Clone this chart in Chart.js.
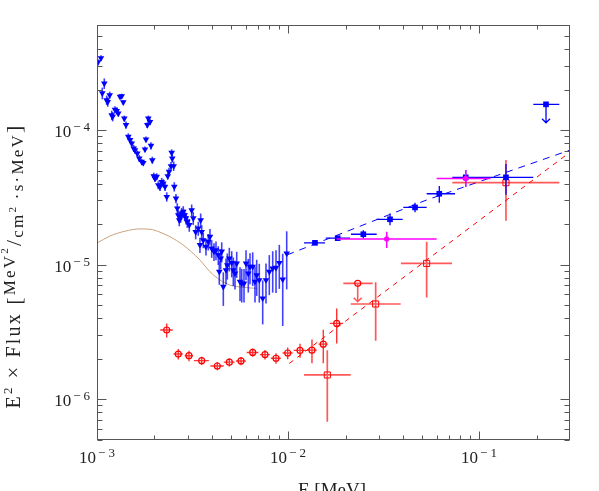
<!DOCTYPE html>
<html>
<head>
<meta charset="utf-8">
<script src="https://cdn.jsdelivr.net/npm/chart.js@4.4.0/dist/chart.umd.min.js"></script>
<style>
  html, body { margin: 0; padding: 0; background: #fff; }
  #wrap { width: 599px; height: 491px; }
</style>
</head>
<body>
<div id="wrap"><canvas id="sed" width="599" height="491"></canvas></div>
<script>
// ---- blue triangles (energy MeV, E^2 flux, relative error) ----
const triE = [1.012e-3, 1.049e-3, 1.092e-3, 1.066e-3, 1.124e-3, 1.138e-3, 1.166e-3, 1.194e-3, 1.208e-3, 1.242e-3,
  1.268e-3, 1.293e-3, 1.320e-3, 1.347e-3, 1.373e-3, 1.390e-3, 1.418e-3, 1.459e-3, 1.489e-3, 1.520e-3,
  1.557e-3, 1.581e-3, 1.625e-3, 1.665e-3, 1.714e-3, 1.747e-3, 1.783e-3, 1.805e-3, 1.834e-3, 1.856e-3,
  1.894e-3, 1.917e-3, 1.948e-3, 1.981e-3, 2.012e-3, 2.054e-3, 2.094e-3, 2.137e-3, 2.181e-3, 2.224e-3,
  2.270e-3, 2.346e-3, 2.383e-3, 2.440e-3, 2.478e-3, 2.460e-3, 2.521e-3, 2.539e-3, 2.318e-3, 2.591e-3,
  2.632e-3, 2.664e-3, 2.696e-3, 2.742e-3, 2.776e-3, 2.829e-3, 2.877e-3, 2.923e-3, 2.969e-3, 3.041e-3,
  3.131e-3, 3.192e-3, 3.286e-3, 3.391e-3, 3.490e-3, 3.532e-3, 3.600e-3, 3.460e-3, 3.720e-3, 3.825e-3,
  3.904e-3, 3.985e-3, 4.097e-3, 4.197e-3, 4.316e-3, 4.442e-3, 4.368e-3, 4.498e-3, 4.585e-3, 4.736e-3,
  4.811e-3, 4.929e-3, 5.073e-3, 5.172e-3, 5.279e-3, 5.388e-3, 5.608e-3, 5.724e-3, 5.884e-3, 6.028e-3,
  6.196e-3, 6.324e-3, 6.534e-3, 6.717e-3, 6.856e-3, 7.074e-3, 7.371e-3, 7.670e-3, 7.982e-3, 8.316e-3,
  8.654e-3, 9.006e-3, 9.383e-3, 9.845e-3];
const triF = [3.20e-4, 3.43e-4, 2.22e-4, 1.88e-4, 1.67e-4, 1.62e-4, 1.82e-4, 1.29e-4, 1.26e-4, 1.42e-4,
  1.39e-4, 1.33e-4, 1.77e-4, 1.79e-4, 1.61e-4, 1.22e-4, 1.09e-4, 8.92e-5, 8.43e-5, 7.96e-5,
  7.31e-5, 7.10e-5, 6.71e-5, 6.16e-5, 5.81e-5, 5.71e-5, 7.19e-5, 8.53e-5, 1.09e-4, 1.22e-4,
  1.15e-4, 7.64e-5, 5.98e-5, 4.55e-5, 4.37e-5, 4.50e-5, 3.90e-5, 3.79e-5, 4.12e-5, 4.02e-5,
  3.79e-5, 4.55e-5, 4.90e-5, 5.40e-5, 6.16e-5, 6.78e-5, 5.40e-5, 3.79e-5, 3.19e-5, 3.10e-5,
  2.62e-5, 2.33e-5, 2.14e-5, 2.27e-5, 2.40e-5, 2.47e-5, 2.33e-5, 2.21e-5, 2.08e-5, 1.97e-5,
  2.54e-5, 2.21e-5, 1.75e-5, 1.86e-5, 2.14e-5, 1.75e-5, 1.52e-5, 1.40e-5, 1.36e-5, 1.48e-5,
  1.61e-5, 1.32e-5, 1.25e-5, 1.28e-5, 1.18e-5, 1.11e-5, 8.84e-6, 1.25e-5, 6.84e-6, 9.10e-6,
  9.91e-6, 1.11e-5, 1.03e-5, 9.10e-6, 8.60e-6, 1.02e-5, 7.45e-6, 7.25e-6, 7.25e-6, 1.02e-5,
  8.60e-6, 9.63e-6, 9.63e-6, 7.45e-6, 8.35e-6, 7.67e-6, 5.61e-6, 7.67e-6, 8.84e-6, 9.37e-6,
  9.47e-6, 1.03e-5, 7.76e-6, 1.21e-5];
const triErr = [0.05, 0.05, 0.09, 0.10, 0.08, 0.08, 0.06, 0.08, 0.08, 0.06,
  0.06, 0.05, 0.04, 0.04, 0.04, 0.05, 0.06, 0.06, 0.05, 0.05,
  0.06, 0.06, 0.05, 0.06, 0.05, 0.05, 0.05, 0.05, 0.05, 0.05,
  0.05, 0.06, 0.06, 0.06, 0.06, 0.06, 0.07, 0.07, 0.07, 0.07,
  0.07, 0.06, 0.07, 0.07, 0.07, 0.06, 0.08, 0.08, 0.08, 0.08,
  0.09, 0.09, 0.10, 0.10, 0.10, 0.10, 0.10, 0.10, 0.10, 0.11,
  0.10, 0.11, 0.12, 0.12, 0.12, 0.12, 0.13, 0.13, 0.14, 0.14,
  0.14, 0.15, 0.15, 0.16, 0.16, 0.17, 0.20, 0.17, 0.28, 0.22,
  0.22, 0.20, 0.22, 0.24, 0.24, 0.22, 0.28, 0.28, 0.28, 0.25,
  0.28, 0.26, 0.28, 0.30, 0.30, 0.32, 0.36, 0.33, 0.33, 0.34,
  0.35, 0.36, 0.55, 0.46];

// ---- blue filled squares ----
const sqE   = [1.384e-2, 1.820e-2, 2.479e-2, 3.42e-2, 4.624e-2, 6.195e-2, 8.52e-2, 0.1384];
const sqF   = [1.45e-5, 1.57e-5, 1.68e-5, 2.17e-5, 2.66e-5, 3.36e-5, 4.45e-5, 4.45e-5];
const sqELo = [1.213e-2, 1.575e-2, 2.137e-2, 2.913e-2, 4.015e-2, 5.32e-2, 7.25e-2, 0.100];
const sqEHi = [1.562e-2, 2.112e-2, 2.913e-2, 3.985e-2, 5.32e-2, 7.486e-2, 0.100, 0.1924];
const sqFLo = [1.40e-5, 1.52e-5, 1.57e-5, 1.96e-5, 2.45e-5, 2.88e-5, 3.79e-5, 3.30e-5];
const sqFHi = [1.50e-5, 1.62e-5, 1.80e-5, 2.40e-5, 2.88e-5, 3.84e-5, 5.04e-5, 5.60e-5];
// blue upper limit
const sqLimE = [0.2243], sqLimF = [1.553e-4], sqLimELo = [0.1924], sqLimEHi = [0.2633], sqLimTo = [1.133e-4];

// ---- red circles ----
const circE = [2.317e-3, 2.664e-3, 3.03e-3, 3.532e-3, 4.264e-3, 4.929e-3, 5.675e-3, 6.534e-3, 7.579e-3,
  8.654e-3, 9.963e-3, 1.156e-2, 1.335e-2, 1.530e-2, 1.799e-2];
const circF = [3.26e-6, 2.16e-6, 2.10e-6, 1.93e-6, 1.76e-6, 1.88e-6, 1.92e-6, 2.22e-6, 2.14e-6,
  2.01e-6, 2.20e-6, 2.30e-6, 2.31e-6, 2.56e-6, 3.65e-6];
const circErr  = [0.12, 0.09, 0.09, 0.07, 0.07, 0.07, 0.07, 0.07, 0.08, 0.09, 0.10, 0.12, 0.20, 0.28, 0.29];
const circXErr = [0.075, 0.055, 0.05, 0.09, 0.08, 0.065, 0.06, 0.07, 0.06, 0.06, 0.06, 0.075, 0.06, 0.055, 0.08];
// red upper limit
const circLimE = [2.317e-2], circLimF = [7.25e-6], circLimELo = [1.948e-2], circLimEHi = [2.776e-2], circLimTo = [5.29e-6];

// ---- red open squares ----
const boxE   = [1.606e-2, 2.877e-2, 5.32e-2, 0.1384];
const boxF   = [1.51e-6, 5.09e-6, 1.02e-5, 4.06e-5];
const boxELo = [1.213e-2, 2.129e-2, 3.90e-2, 7.25e-2];
const boxEHi = [2.129e-2, 3.89e-2, 7.22e-2, 0.2633];
const boxFLo = [6.78e-7, 2.71e-6, 5.70e-6, 2.12e-5];
const boxFHi = [2.31e-6, 7.37e-6, 1.48e-5, 5.98e-5];

// ---- magenta ----
const magE   = [3.286e-2, 8.52e-2];
const magF   = [1.55e-5, 4.37e-5];
const magELo = [1.799e-2, 6.00e-2];
const magEHi = [6.004e-2, 0.115];
const magFLo = [1.33e-5, 3.79e-5];
const magFHi = [1.75e-5, 5.04e-5];

// ---- model lines ----
const blueFitE = [9.9e-3, 5.32e-2, 0.3];
const blueFitF = [1.18e-5, 3.02e-5, 7.10e-5];
const redFitE  = [1.016e-2, 0.3];
const redFitF  = [1.84e-6, 6.86e-5];
const modelE = [1.0e-3, 1.170e-3, 1.402e-3, 1.680e-3, 1.894e-3, 2.137e-3, 2.41e-3, 2.82e-3, 3.46e-3,
  3.904e-3, 4.406e-3, 4.968e-3, 5.813e-3, 6.880e-3];
const modelF = [1.445e-5, 1.63e-5, 1.77e-5, 1.84e-5, 1.83e-5, 1.74e-5, 1.61e-5, 1.40e-5, 1.08e-5,
  8.84e-6, 7.67e-6, 7.04e-6, 6.77e-6, 6.65e-6];

// axes
const xMin = 1e-3, xMax = 0.2995, yMin = 4.96e-7, yMax = 6.04e-4;
const xMajorExp = [-3, -2, -1];
const yMajorExp = [-6, -5, -4];

const BLUE = '#0000ff', RED = '#ff0000', MAG = '#ff00ff', BROWN = '#c8a27c';
const FONT = '"Liberation Serif", "DejaVu Serif", serif';

function pts(E, F) { return E.map((e, i) => ({ x: e, y: F[i] })); }

const triBars = triE.map((e, i) => ({ x: e, y: triF[i], yLo: triF[i] * (1 - triErr[i]), yHi: triF[i] * (1 + triErr[i]) }));
const sqBars = sqE.map((e, i) => ({ x: e, y: sqF[i], xLo: sqELo[i], xHi: sqEHi[i], yLo: sqFLo[i], yHi: sqFHi[i] }));
const sqLimBars = sqLimE.map((e, i) => ({ x: e, y: sqLimF[i], xLo: sqLimELo[i], xHi: sqLimEHi[i], limTo: sqLimTo[i] }));
const circBars = circE.map((e, i) => ({ x: e, y: circF[i], xLo: e * (1 - circXErr[i]), xHi: e * (1 + circXErr[i]),
  yLo: circF[i] * (1 - circErr[i]), yHi: circF[i] * (1 + circErr[i]) }));
const circLimBars = circLimE.map((e, i) => ({ x: e, y: circLimF[i], xLo: circLimELo[i], xHi: circLimEHi[i], limTo: circLimTo[i] }));
const boxBars = boxE.map((e, i) => ({ x: e, y: boxF[i], xLo: boxELo[i], xHi: boxEHi[i], yLo: boxFLo[i], yHi: boxFHi[i] }));
const magBars = magE.map((e, i) => ({ x: e, y: magF[i], xLo: magELo[i], xHi: magEHi[i], yLo: magFLo[i], yHi: magFHi[i] }));

// error bars / upper limit arrows, drawn just under each dataset's markers
const errorBarPlugin = {
  id: 'errorBars',
  beforeDatasetDraw(chart, args) {
    const ds = chart.data.datasets[args.index];
    if (!ds.errorBars) return;
    const { ctx, chartArea: a, scales: { x, y } } = chart;
    ctx.save();
    ctx.beginPath();
    ctx.rect(a.left, a.top, a.right - a.left, a.bottom - a.top);
    ctx.clip();
    ctx.strokeStyle = ds.barColor;
    ctx.lineWidth = ds.barWidth;
    ds.errorBars.forEach(b => {
      const px = x.getPixelForValue(b.x), py = y.getPixelForValue(b.y);
      ctx.beginPath();
      if (b.xLo != null) { ctx.moveTo(x.getPixelForValue(b.xLo), py); ctx.lineTo(x.getPixelForValue(b.xHi), py); }
      if (b.yLo != null) { ctx.moveTo(px, y.getPixelForValue(b.yLo)); ctx.lineTo(px, y.getPixelForValue(b.yHi)); }
      if (b.limTo != null) {
        const ty = y.getPixelForValue(b.limTo);
        ctx.moveTo(px, py); ctx.lineTo(px, ty);
        ctx.moveTo(px - 4, ty - 4); ctx.lineTo(px, ty); ctx.lineTo(px + 4, ty - 4);
      }
      ctx.stroke();
    });
    ctx.restore();
  }
};

function drawPow(ctx, exp, x, y, align) {
  ctx.font = '17px ' + FONT;
  const wb = ctx.measureText('10').width;
  ctx.font = '13px ' + FONT;
  const wm = ctx.measureText('\u2212').width;
  const wd = ctx.measureText(String(Math.abs(exp))).width;
  const total = wb + 2 + wm + 3 + wd;
  const x0 = align === 'center' ? x - total / 2 : x - total;
  ctx.textAlign = 'left';
  ctx.textBaseline = 'alphabetic';
  ctx.font = '17px ' + FONT;
  ctx.fillText('10', x0, y);
  ctx.font = '13px ' + FONT;
  ctx.fillText('\u2212', x0 + wb + 2, y - 6);
  ctx.fillText(String(Math.abs(exp)), x0 + wb + 2 + wm + 3, y - 6);
}

// frame with inward ticks on all sides, tick labels and titles
const frameAxes = {
  id: 'frameAxes',
  afterDraw(chart) {
    const { ctx, chartArea: a, scales: { x, y } } = chart;
    const L = Math.round(a.left) + 0.5, R = Math.round(a.right) - 0.5;
    const T = Math.round(a.top) + 0.5, B = Math.round(a.bottom) - 0.5;
    ctx.save();
    ctx.strokeStyle = '#555';
    ctx.lineWidth = 1;
    ctx.strokeRect(L, T, R - L, B - T);

    ctx.beginPath();
    for (let d = -3; d <= -1; d++) {
      for (let m = 1; m <= 9; m++) {
        const v = m * Math.pow(10, d);
        if (v < xMin * 0.999 || v > xMax) continue;
        const px = Math.round(x.getPixelForValue(v)) + 0.5;
        const len = m === 1 ? 8 : 4;
        ctx.moveTo(px, B); ctx.lineTo(px, B - len);
        ctx.moveTo(px, T); ctx.lineTo(px, T + len);
      }
    }
    for (let d = -7; d <= -4; d++) {
      for (let m = 1; m <= 9; m++) {
        const v = m * Math.pow(10, d);
        if (v < yMin || v > yMax) continue;
        const py = Math.round(y.getPixelForValue(v)) + 0.5;
        const len = m === 1 ? 9 : 5;
        ctx.moveTo(L, py); ctx.lineTo(L + len, py);
        ctx.moveTo(R, py); ctx.lineTo(R - len, py);
      }
    }
    ctx.stroke();

    ctx.fillStyle = '#222';
    xMajorExp.forEach(e => drawPow(ctx, e, x.getPixelForValue(Math.pow(10, e)), 463, 'center'));
    yMajorExp.forEach(e => drawPow(ctx, e, 90, y.getPixelForValue(Math.pow(10, e)) + 7, 'right'));

    // x title (partly below the canvas edge, as in the original)
    ctx.font = '19px ' + FONT;
    ctx.textAlign = 'center';
    ctx.textBaseline = 'alphabetic';
    ctx.fillText('E [MeV]', 332, 496);

    // y title, built from pieces: [text, size, shift]
    const parts = [
      ['E', 20, 0], ['2', 13, -8], [' \u00d7 Flux ', 20, 0], ['[', 22, 1],
      ['MeV', 17, -5], ['2', 11, -12], ['/', 22, 1], ['cm', 17, 3], ['2', 11, -4],
      ['\u2009\u00b7s\u00b7MeV', 17, 3], [']', 22, 1]
    ];
    const target = 285;
    let w = 0, n = 0;
    parts.forEach(p => { ctx.font = p[1] + 'px ' + FONT; w += ctx.measureText(p[0]).width; n += p[0].length; });
    const gap = Math.max(0, (target - w) / n);
    ctx.translate(20, 266);
    ctx.rotate(-Math.PI / 2);
    ctx.textAlign = 'left';
    let cx = -target / 2;
    parts.forEach(p => {
      ctx.font = p[1] + 'px ' + FONT;
      for (const ch of p[0]) {
        ctx.fillText(ch, cx, p[2]);
        cx += ctx.measureText(ch).width + gap;
      }
    });
    ctx.restore();
  }
};

new Chart(document.getElementById('sed'), {
  type: 'scatter',
  data: {
    datasets: [
      { label: 'magenta', data: pts(magE, magF), pointStyle: 'circle', pointRadius: 2.6,
        backgroundColor: MAG, borderColor: MAG, borderWidth: 0,
        errorBars: magBars, barColor: MAG, barWidth: 1.5 },
      { label: 'blue squares', data: pts(sqE, sqF), pointStyle: 'rect', pointRadius: 4,
        backgroundColor: BLUE, borderColor: BLUE, borderWidth: 0,
        errorBars: sqBars, barColor: BLUE, barWidth: 1.3 },
      { label: 'blue limit', data: pts(sqLimE, sqLimF), pointStyle: 'rect', pointRadius: 4,
        backgroundColor: BLUE, borderColor: BLUE, borderWidth: 0,
        errorBars: sqLimBars, barColor: BLUE, barWidth: 1.3 },
      { label: 'red squares', data: pts(boxE, boxF), pointStyle: 'rect', pointRadius: 4.3,
        backgroundColor: 'rgba(255,255,255,0)', borderColor: RED, borderWidth: 1,
        errorBars: boxBars, barColor: 'rgba(255,0,0,0.65)', barWidth: 1.7 },
      { label: 'red circles', data: pts(circE, circF), pointStyle: 'circle', pointRadius: 3,
        backgroundColor: 'rgba(255,255,255,0)', borderColor: RED, borderWidth: 1.2,
        errorBars: circBars, barColor: 'rgba(255,0,0,0.8)', barWidth: 1.4 },
      { label: 'red limit', data: pts(circLimE, circLimF), pointStyle: 'circle', pointRadius: 3,
        backgroundColor: 'rgba(255,255,255,0)', borderColor: RED, borderWidth: 1.2,
        errorBars: circLimBars, barColor: 'rgba(255,0,0,0.65)', barWidth: 1.6 },
      { label: 'triangles', data: pts(triE, triF), pointStyle: 'triangle', rotation: 180, pointRadius: 3.8,
        backgroundColor: BLUE, borderColor: BLUE, borderWidth: 0,
        errorBars: triBars, barColor: 'rgba(0,0,255,0.75)', barWidth: 1.6 },
      { label: 'model', data: pts(modelE, modelF), showLine: true, pointRadius: 0,
        borderColor: BROWN, borderWidth: 1, cubicInterpolationMode: 'monotone', fill: false },
      { label: 'blue fit', data: pts(blueFitE, blueFitF), showLine: true, pointRadius: 0,
        borderColor: BLUE, borderWidth: 1, borderDash: [7, 6], fill: false },
      { label: 'red fit', data: pts(redFitE, redFitF), showLine: true, pointRadius: 0,
        borderColor: RED, borderWidth: 1, borderDash: [5, 5], fill: false }
    ]
  },
  options: {
    responsive: false,
    animation: false,
    layout: { padding: { left: 97, right: 29, top: 25, bottom: 51 } },
    plugins: { legend: { display: false }, tooltip: { enabled: false } },
    scales: {
      x: { type: 'logarithmic', min: xMin, max: xMax, display: false, bounds: 'data' },
      y: { type: 'logarithmic', min: yMin, max: yMax, display: false, bounds: 'data' }
    }
  },
  plugins: [errorBarPlugin, frameAxes]
});
</script>
</body>
</html>
